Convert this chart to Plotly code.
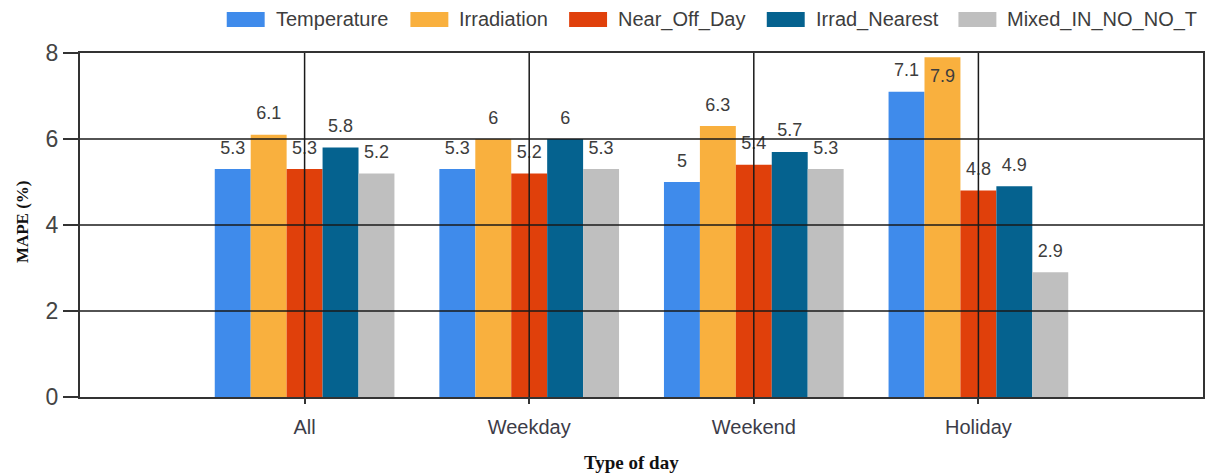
import plotly.graph_objects as go

# Forecast error (MAPE, %) per day type for each input-feature set
categories = ["All", "Weekday", "Weekend", "Holiday"]
temperature = [5.3, 5.3, 5.0, 7.1]
irradiation = [6.1, 6.0, 6.3, 7.9]
near_off_day = [5.3, 5.2, 5.4, 4.8]
irrad_nearest = [5.8, 6.0, 5.7, 4.9]
mixed_in_no_no_t = [5.2, 5.3, 5.3, 2.9]

series_names = ["Temperature", "Irradiation", "Near_Off_Day", "Irrad_Nearest", "Mixed_IN_NO_NO_T"]
series_values = [temperature, irradiation, near_off_day, irrad_nearest, mixed_in_no_no_t]
colors = ["#3F8BEB", "#F9B03E", "#E0400B", "#05628F", "#BFBFBF"]

y_ticks = [0, 2, 4, 6, 8]
y_max = 8

FONT = "Liberation Sans"
TEXT_COLOR = "#3d3d3d"

# plot-area geometry in pixels (used to place the hand-drawn legend)
PLOT_L, PLOT_R, PLOT_T, PLOT_B = 80, 1205, 53, 397
legend_left_px = [227, 411, 570, 768, 960]


def px_to_paper_x(px):
    return (px - PLOT_L) / (PLOT_R - PLOT_L)


def px_to_paper_y(py):
    return (PLOT_B - py) / (PLOT_B - PLOT_T)


fig = go.Figure()

for i, (name, vals, col) in enumerate(zip(series_names, series_values, colors)):
    fig.add_trace(go.Bar(
        x=categories, y=vals, name=name, marker=dict(color=col, line=dict(width=0)),
        offsetgroup=str(i), showlegend=False, hoverinfo="x+y+name",
    ))

# value labels, grouped the same way as the bars
for i, (name, vals) in enumerate(zip(series_names, series_values)):
    positions = ["bottom center" if v > y_max - 0.3 else "top center" for v in vals]
    fig.add_trace(go.Scatter(
        x=categories, y=vals, mode="markers+text", offsetgroup=str(i),
        marker=dict(size=16, opacity=0), text=[f"{v:g}" for v in vals],
        textposition=positions, textfont=dict(family=FONT, size=18, color=TEXT_COLOR),
        cliponaxis=False, showlegend=False, hoverinfo="skip",
    ))

# grid lines drawn on top of the bars
for t in y_ticks[1:-1]:
    fig.add_hline(y=t, line=dict(color="#1a1a1a", width=1.5), layer="above")
for c in categories:
    fig.add_vline(x=c, line=dict(color="#1a1a1a", width=1.5), layer="above")

# legend: wide colour swatches with labels along the top
for name, col, lx in zip(series_names, colors, legend_left_px):
    fig.add_shape(type="rect", xref="paper", yref="paper",
                  x0=px_to_paper_x(lx), x1=px_to_paper_x(lx + 38),
                  y0=px_to_paper_y(27), y1=px_to_paper_y(12),
                  fillcolor=col, line=dict(width=0))
    fig.add_annotation(text=name, xref="paper", yref="paper",
                       x=px_to_paper_x(lx + 47), y=px_to_paper_y(19.5),
                       xanchor="left", yanchor="middle", showarrow=False,
                       font=dict(family=FONT, size=20, color=TEXT_COLOR))

fig.add_annotation(text="<b>MAPE (%)</b>", xref="paper", yref="paper",
                   x=px_to_paper_x(22), y=px_to_paper_y(222), textangle=-90,
                   xanchor="center", yanchor="middle", showarrow=False,
                   font=dict(family="Liberation Serif", size=17, color="#111111"))
fig.add_annotation(text="<b>Type of day</b>", xref="paper", yref="paper",
                   x=px_to_paper_x(632), y=px_to_paper_y(463),
                   xanchor="center", yanchor="middle", showarrow=False,
                   font=dict(family="Liberation Serif", size=19, color="#111111"))

fig.update_layout(
    width=1209, height=475,
    margin=dict(l=PLOT_L, r=1209 - PLOT_R, t=PLOT_T, b=475 - PLOT_B),
    paper_bgcolor="white", plot_bgcolor="white",
    barmode="group", bargap=0.2, bargroupgap=0, scattermode="group",
    showlegend=False,
    xaxis=dict(
        type="category", range=[-1, 4], showgrid=False,
        showline=True, linecolor="#333333", linewidth=2, mirror=True,
        ticks="outside", ticklen=5, tickwidth=2, tickcolor="#333333",
        tickfont=dict(family=FONT, size=20, color="#3c3c48"), ticklabelstandoff=6,
    ),
    yaxis=dict(
        range=[0, y_max], tickvals=y_ticks, showgrid=False, zeroline=False,
        showline=True, linecolor="#333333", linewidth=2, mirror=True,
        ticks="outside", ticklen=15, tickwidth=2, tickcolor="#333333",
        tickfont=dict(family=FONT, size=23, color="#444444"),
    ),
)

fig.write_html("out.html")
